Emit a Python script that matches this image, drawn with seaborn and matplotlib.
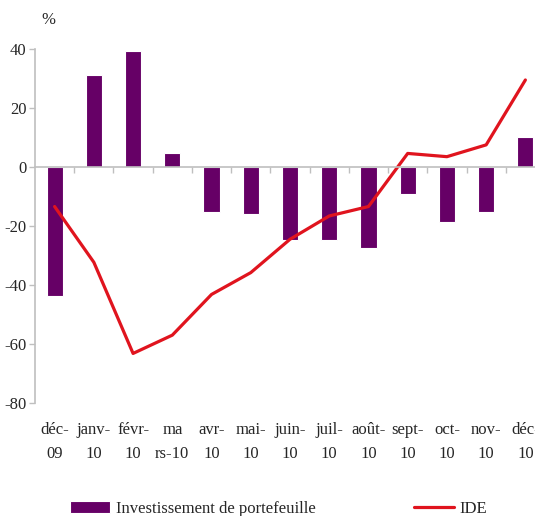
import numpy as np
import pandas as pd
import seaborn as sns
import matplotlib.pyplot as plt
from matplotlib.ticker import MultipleLocator

sns.set_theme(context='paper', style='white', font='Liberation Serif')
plt.rcParams['axes.unicode_minus'] = False

months = ['déc-\n09', 'janv-\n10', 'févr-\n10', 'ma\nrs-10', 'avr-\n10', 'mai-\n10',
          'juin-\n10', 'juil-\n10', 'août-\n10', 'sept-\n10', 'oct-\n10', 'nov-\n10',
          'déc-\n10']
portefeuille = [-43.6, 31.2, 39.3, 4.7, -15.1, -15.9, -24.7, -24.7, -27.3, -9.0, -18.6, -15.3, 10.3]
ide = [-13.4, -32.3, -63.2, -57.0, -43.2, -35.8, -24.5, -16.6, -13.4, 4.6, 3.5, 7.5, 29.5]

df = pd.DataFrame({'mois': months, 'Investissement de portefeuille': portefeuille,
                   'IDE': ide, 'pos': np.arange(len(months))})

purple = '#660066'
red = '#E0141E'
grey = '#BFBFBF'

fig = plt.figure(figsize=(5.35, 5.16), dpi=100)
ax = fig.add_axes([35 / 535, 113 / 516, 510 / 535, 354 / 516])

sns.barplot(data=df, x='mois', y='Investissement de portefeuille', color=purple,
            width=0.41, saturation=1, ax=ax, label='Investissement de portefeuille')
sns.lineplot(data=df, x='pos', y='IDE', color=red, linewidth=2.3, ax=ax, label='IDE')

ax.set_xlim(-0.5, len(months) - 0.5)
ax.set_ylim(-80, 40)
ax.yaxis.set_major_locator(MultipleLocator(20))
ax.set_xlabel('')
ax.set_ylabel('')

# y axis on the left, x axis line through zero
for side in ['top', 'right']:
    ax.spines[side].set_visible(False)
ax.spines['left'].set_color(grey)
ax.spines['left'].set_linewidth(1.2)
ax.spines['bottom'].set_position(('data', 0))
ax.spines['bottom'].set_color(grey)
ax.spines['bottom'].set_linewidth(1.2)
ax.set_xticks(np.arange(len(months)) + 0.5)
ax.set_xticklabels([])
ax.tick_params(axis='x', direction='out', length=4, width=1, color=grey, bottom=True)
ax.tick_params(axis='y', direction='out', length=4, width=1, color=grey, left=True,
               labelsize=12, pad=2)

sec = ax.secondary_xaxis('bottom')
sec.spines['bottom'].set_visible(False)
sec.set_xticks(np.arange(len(months)))
sec.set_xticklabels(months, linespacing=1.6)
sec.tick_params(length=0, labelsize=12, pad=14)

fig.text(48 / 535, 1 - 20 / 516, '%', fontsize=12, ha='center', va='center')

ax.get_legend().remove()
h, l = ax.get_legend_handles_labels()
order = [l.index('Investissement de portefeuille'), l.index('IDE')]
fig.legend([h[i] for i in order], [l[i] for i in order], loc='center left',
           bbox_to_anchor=(70 / 535, 1 - 509 / 516), ncol=2,
           frameon=False, fontsize=12, handlelength=2.4, handleheight=0.75,
           handletextpad=0.35, columnspacing=5.9, borderpad=0, borderaxespad=0)

fig.savefig('out.png', dpi=100)
